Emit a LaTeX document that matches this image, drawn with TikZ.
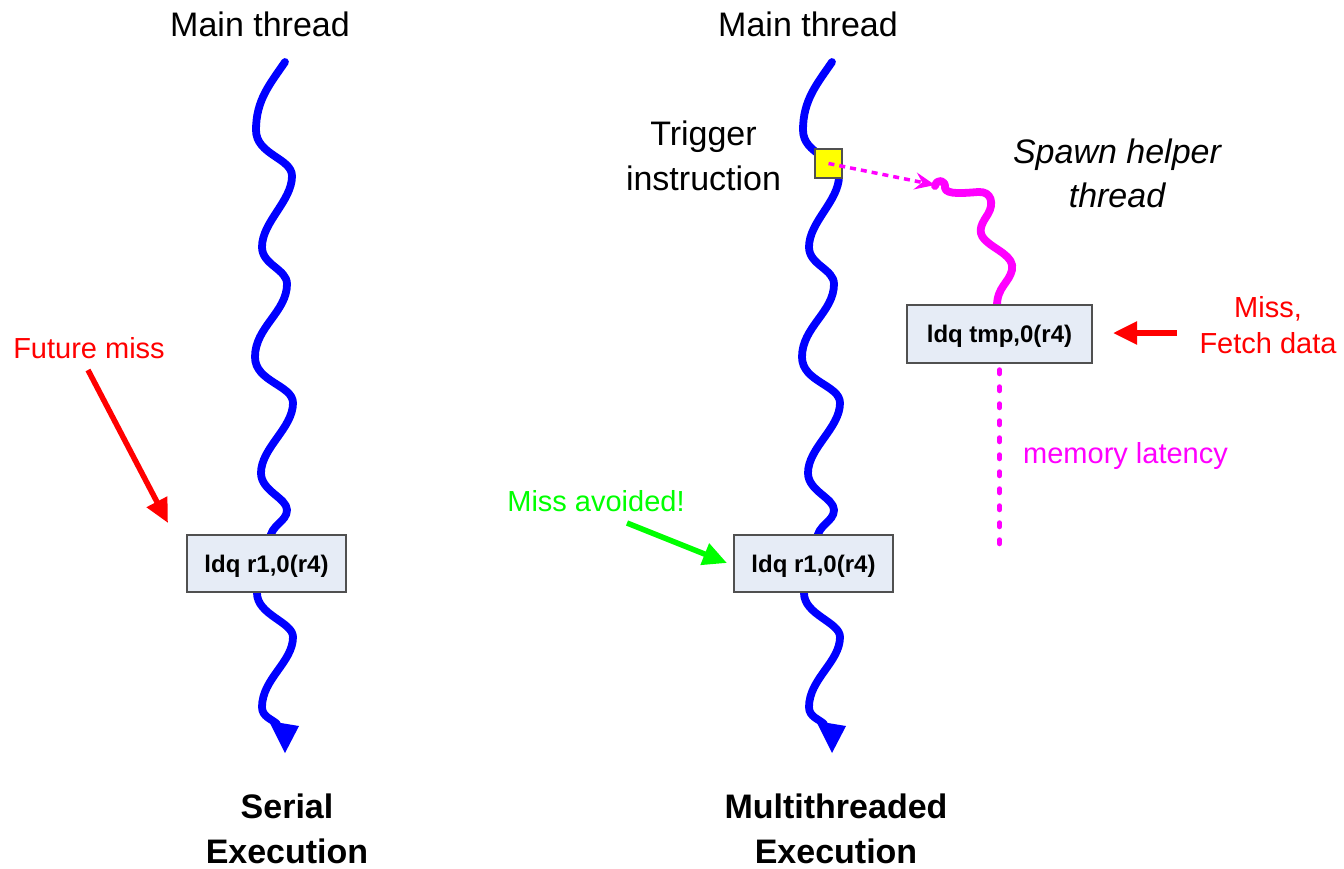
\documentclass[tikz,border=0pt]{standalone}
\usepackage{fontspec}
\setmainfont{Liberation Sans}
\usetikzlibrary{arrows.meta}

\definecolor{threadblue}{RGB}{0,0,255}
\definecolor{helpermag}{RGB}{255,0,255}
\definecolor{missred}{RGB}{255,0,0}
\definecolor{okgreen}{RGB}{0,255,0}
\definecolor{trigyellow}{RGB}{255,255,0}
\definecolor{boxfill}{RGB}{230,236,246}
\definecolor{boxline}{RGB}{80,80,80}

\tikzset{
  thread/.style={draw=threadblue, line width=7.8pt, line cap=round, line join=round},
  helper/.style={draw=helpermag, line width=7.8pt, line cap=round, line join=round},
  instr/.style={draw=boxline, line width=1.5pt, fill=boxfill, minimum height=57pt,
    text height=17pt, text depth=0pt, inner sep=0pt,
    font=\fontsize{24}{28}\selectfont\bfseries},
  % multi-line titles: the base anchor sits on the last line
  title/.style={font=\fontsize{34}{45}\selectfont, align=center, anchor=base, inner sep=0pt},
  note/.style={font=\fontsize{29}{36}\selectfont, align=center, anchor=base, inner sep=0pt},
  callout/.style={line width=5.5pt, -{Triangle[length=24pt,width=22pt]}},
  latency/.style={draw=helpermag, line width=5pt, line cap=round, dash pattern=on 4pt off 13pt},
  spawnarrow/.style={draw=helpermag, line width=3.5pt, dash pattern=on 6pt off 5pt,
    -{Stealth[length=20pt,width=17pt,inset=7pt]}},
  % a wavy main thread with its arrow head, origin at the image corner
  mainthread/.pic={
    \draw[thread] (285,62)
      .. controls +(-15,22) and +(0,-30) .. (256,130)
      .. controls +(0,25) and +(0,-18) .. (292,176)
      .. controls +(0,25) and +(0,-25) .. (262,247)
      .. controls +(0,18) and +(0,-15) .. (287,284)
      .. controls +(0,28) and +(0,-30) .. (255,357)
      .. controls +(0,25) and +(0,-18) .. (293,403)
      .. controls +(0,25) and +(0,-25) .. (261,473)
      .. controls +(0,18) and +(0,-12) .. (287,510)
      .. controls +(0,12) and +(0,-15) .. (270,540)
      -- (259,585)
      .. controls +(0,3) and +(0,-8) .. (257,593)
      .. controls +(0,22) and +(0,-15) .. (293,637)
      .. controls +(0,25) and +(0,-28) .. (262,707)
      .. controls +(0,10) and +(-5,-5) .. (277,724);
    \fill[threadblue] (269,721) -- (299,726) -- (285,753) -- cycle;
  }
}

\begin{document}
\begin{tikzpicture}[x=1pt, y=-1pt]
  \useasboundingbox (0,0) rectangle (1344,868);

  % the two main threads
  \pic at (0,0) {mainthread};
  \pic at (547,0) {mainthread};

  % the helper thread
  \coordinate (spawnpt) at (935,185);
  \draw[helper] (935,186)
    .. controls (937,178) and (946,180) .. (945,188)
    .. controls (946,195) and (965,193) .. (978,192)
    .. controls (992,191) and (994,204) .. (988,214)
    .. controls (983,222) and (976,231) .. (985,240)
    .. controls (995,250) and (1015,256) .. (1012,270)
    .. controls (1009,283) and (997,287) .. (997,306);

  % instruction boxes
  \node[instr, minimum width=159pt] (ldqL) at (266.5,563.5) {ldq r1,0(r4)};
  \node[instr, minimum width=159pt] (ldqR) at (813.5,563.5) {ldq r1,0(r4)};
  \node[instr, minimum width=185pt, minimum height=58pt] (ldqH) at (999.5,334) {ldq tmp,0(r4)};

  % trigger instruction marker and the spawn
  \node[draw=boxline, fill=trigyellow, line width=1.2pt, minimum width=27pt,
        minimum height=29pt, inner sep=0pt] (trig) at (828.5,163.5) {};
  \draw[spawnarrow] (trig.center) -- (spawnpt);

  % memory latency
  \coordinate (latEnd) at (999.5,545);
  \draw[latency] ([yshift=-6pt]ldqH.south) -- (latEnd);

  % titles
  \node[title] (mtL) at (260,36) {Main thread};
  \node[title] (mtR) at (808,36) {Main thread};
  \node[title] (trigtxt) at (703.5,190) {Trigger\\instruction};
  \node[title, font=\fontsize{34}{44}\selectfont\itshape] (spawntxt) at (1117,207) {Spawn helper\\thread};
  \node[title, font=\fontsize{34}{45}\selectfont\bfseries] (serial) at (287,863) {Serial\\Execution};
  \node[title, font=\fontsize{34}{45}\selectfont\bfseries] (multi) at (836,863) {Multithreaded\\Execution};

  % annotations
  \node[note, text=missred] (fm) at (89,358) {Future miss};
  \node[note, text=okgreen] (ma) at (596,511) {Miss avoided!};
  \node[note, text=missred] (mf) at (1268,353) {Miss,\\Fetch data};
  \node[note, text=helpermag, anchor=base west] (ml) at (1023,463) {memory latency};

  \coordinate (fmTail) at (88,370);
  \coordinate (fmTip) at (168,523);
  \draw[callout, missred] (fmTail) -- (fmTip);

  \coordinate (maTail) at (627,523);
  \coordinate (maTip) at (727,563);
  \draw[callout, okgreen] (maTail) -- (maTip);

  \coordinate (mfTail) at (1177,333);
  \coordinate (mfTip) at (1113,333);
  \draw[callout, missred] (mfTail) -- (mfTip);
\end{tikzpicture}
\end{document}
